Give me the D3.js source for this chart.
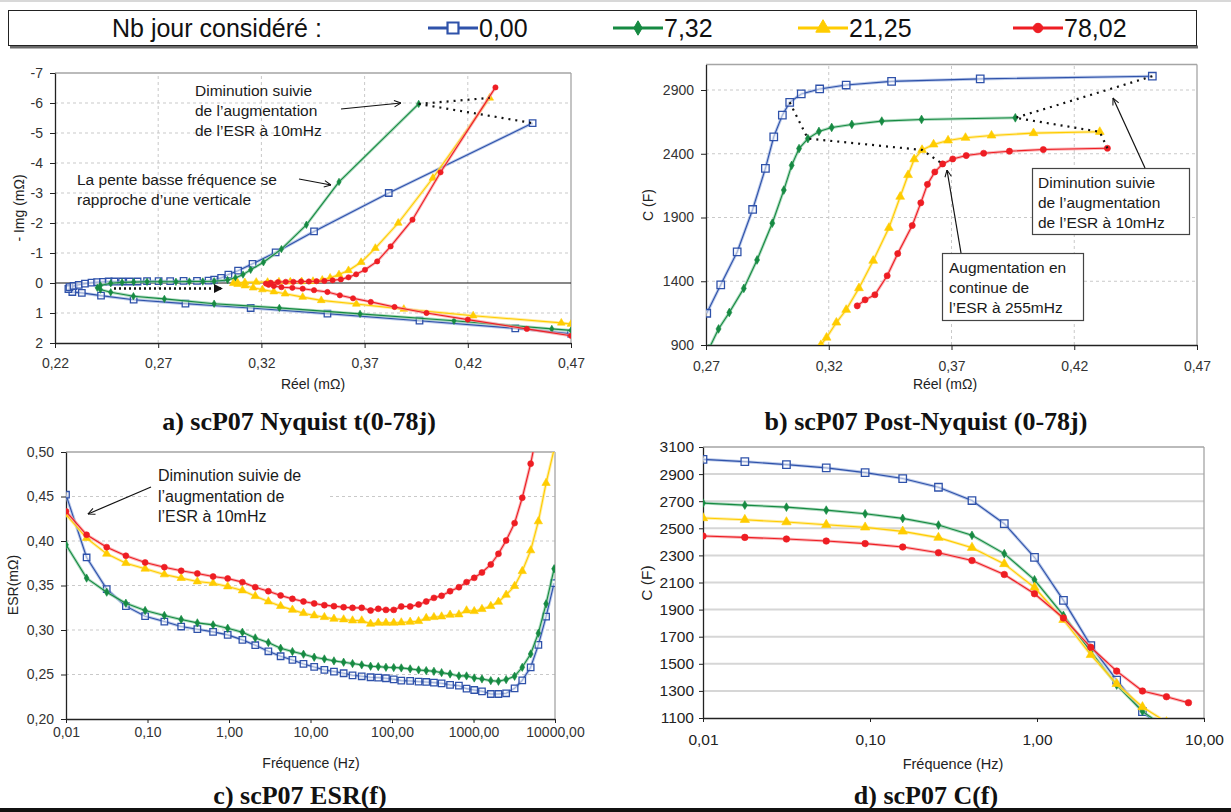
<!DOCTYPE html>
<html><head><meta charset="utf-8">
<script src="https://cdn.jsdelivr.net/npm/d3@7"></script>
<style>body{margin:0;background:#fff}svg{display:block}text{font-family:"Liberation Sans",Arial,sans-serif}text.ttl{font-family:"Liberation Serif","Times New Roman",serif;font-weight:bold}</style>
</head><body>
<script>
// ---------- series meta ----------
const seriesLabels = ["0,00","7,32","21,25","78,02"];
const seriesColors = ["#2F52AA","#168A42","#FFCC00","#EE1D23"];
const haloColors   = ["#9DB2E0","#8FCCA6","#FFE680","#F7989B"];
const markerTypes  = ["square","diamond","triangle","circle"];

// ---------- a) Nyquist ----------
const nyqRe0=[0.470,0.443,0.3966,0.352,0.3148,0.2832,0.2581,0.2423,0.2330,0.2284,0.2265,0.2270,0.2290,0.2315,0.2345,0.2377,0.2404,0.2432,0.2460,0.2488,0.2525,0.2562,0.2600,0.2646,0.2702,0.2758,0.2823,0.2888,0.2944,0.2971,0.3005,0.3040,0.3087,0.3157,0.3269,0.3455,0.3817,0.4514];
const nyqIm0=[1.69,1.511,1.256,1.022,0.833,0.689,0.556,0.422,0.33,0.30,0.20,0.14,0.10,0.06,0.02,-0.01,-0.03,-0.04,-0.05,-0.05,-0.05,-0.05,-0.05,-0.06,-0.06,-0.06,-0.07,-0.07,-0.08,-0.11,-0.17,-0.28,-0.41,-0.64,-1.02,-1.72,-3.00,-5.33];
const nyqRe1=[0.470,0.4607,0.4133,0.3678,0.3287,0.2971,0.2730,0.2580,0.2470,0.2420,0.2405,0.2420,0.2470,0.2525,0.2581,0.2646,0.2711,0.2786,0.2851,0.2916,0.2971,0.3036,0.3074,0.3111,0.3148,0.3210,0.3297,0.3418,0.3576,0.3962];
const nyqIm1=[1.58,1.53,1.26,1.03,0.83,0.69,0.53,0.44,0.31,0.22,0.16,0.08,0.01,-0.02,-0.03,-0.04,-0.04,-0.04,-0.05,-0.05,-0.06,-0.10,-0.17,-0.28,-0.44,-0.69,-1.13,-1.94,-3.37,-5.97];
const nyqRe2=[0.470,0.4653,0.4226,0.389,0.366,0.349,0.340,0.3315,0.326,0.3205,0.316,0.312,0.3085,0.3064,0.3085,0.312,0.3175,0.3230,0.3285,0.334,0.3395,0.345,0.3495,0.3533,0.3576,0.3622,0.3683,0.3752,0.3863,0.4031,0.4306];
const nyqIm2=[1.37,1.33,1.09,0.87,0.70,0.58,0.47,0.36,0.29,0.22,0.16,0.09,0.04,0.01,-0.01,-0.02,-0.03,-0.03,-0.04,-0.04,-0.05,-0.06,-0.10,-0.17,-0.28,-0.42,-0.69,-1.16,-2.0,-3.5,-6.17];
const nyqRe3=[0.470,0.4486,0.420,0.400,0.3845,0.373,0.3644,0.358,0.352,0.3455,0.340,0.3350,0.3297,0.3260,0.3235,0.3222,0.3245,0.3280,0.3318,0.3355,0.3392,0.343,0.3467,0.3505,0.3545,0.3585,0.3622,0.3659,0.3702,0.3761,0.3826,0.3932,0.4068,0.4334];
const nyqIm3=[1.76,1.53,1.22,1.0,0.80,0.63,0.51,0.41,0.30,0.24,0.19,0.16,0.14,0.10,0.06,0.02,-0.01,-0.03,-0.04,-0.04,-0.05,-0.05,-0.06,-0.07,-0.09,-0.12,-0.19,-0.29,-0.44,-0.72,-1.22,-2.11,-3.69,-6.52];
const ticksAx=[0.22,0.27,0.32,0.37,0.42,0.47];
const ticksAy=[-7,-6,-5,-4,-3,-2,-1,0,1,2];

// ---------- b) Post-Nyquist ----------
const postRe0=[0.2703,0.276,0.2827,0.289,0.2942,0.2976,0.3011,0.3041,0.3088,0.3163,0.3271,0.3456,0.3817,0.4518];
const postC0 =[1149,1372,1630,1963,2286,2533,2703,2803,2869,2908,2939,2968,2987,3008];
const postRe1=[0.2712,0.2751,0.2795,0.2854,0.2908,0.297,0.3017,0.3049,0.3079,0.3115,0.316,0.3212,0.3294,0.3416,0.3578,0.396];
const postC1 =[870,1026,1155,1344,1567,1855,2115,2309,2441,2519,2575,2606,2630,2656,2669,2682];
const postRe2=[0.3168,0.3191,0.3231,0.3271,0.3323,0.3381,0.3445,0.3491,0.3523,0.3548,0.358,0.3627,0.3686,0.3757,0.3863,0.4034,0.4304];
const postC2 =[900,958,1076,1176,1346,1561,1819,2063,2233,2357,2430,2473,2504,2525,2543,2562,2572];
const postRe3=[0.3316,0.3348,0.3388,0.3438,0.3481,0.354,0.3575,0.3602,0.3632,0.3664,0.3705,0.376,0.3831,0.3936,0.4074,0.4335];
const postC3 =[1207,1254,1294,1443,1617,1837,2015,2160,2257,2320,2359,2386,2404,2420,2433,2443];
const kneeIdx=[7,9,10,9];
const ticksBx=[0.27,0.32,0.37,0.42,0.47];
const ticksBy=[900,1400,1900,2400,2900];

// ---------- c) ESR(f) ----------
const freqESR=[0.01,0.0179,0.0316,0.0543,0.0935,0.161,0.259,0.409,0.638,0.964,1.46,2.1,3.04,4.3,6.0,8.2,11.1,14.8,19.4,25.5,32.8,42.5,54.6,67.8,84.3,105,130,167,212,263,327,406,516,662,822,1021,1270,1630,2024,2515,3193,3965,5030,6250,7770,9750];
const esr0=[0.452,0.3815,0.3459,0.3268,0.3155,0.3095,0.3039,0.3009,0.2979,0.2945,0.2889,0.2829,0.2761,0.2705,0.2664,0.2619,0.2585,0.2551,0.2533,0.2514,0.2491,0.248,0.2469,0.2465,0.2458,0.2446,0.2431,0.2428,0.242,0.2416,0.2409,0.2401,0.2383,0.2375,0.2341,0.2326,0.2311,0.2281,0.2281,0.2289,0.2345,0.2435,0.2581,0.2833,0.3151,0.3526];
const esr1=[0.3958,0.3583,0.3425,0.3301,0.3219,0.3163,0.3118,0.308,0.3058,0.302,0.2975,0.2911,0.2859,0.2795,0.2758,0.2728,0.2694,0.2675,0.2653,0.2638,0.2623,0.2608,0.2593,0.2589,0.2581,0.2578,0.2574,0.2563,0.2551,0.2544,0.2536,0.2521,0.2506,0.2484,0.2484,0.2461,0.245,0.2431,0.2424,0.2443,0.248,0.2581,0.2731,0.2964,0.3294,0.3688];
const esr2=[0.4299,0.4033,0.3856,0.3751,0.3688,0.3624,0.3583,0.3545,0.3526,0.3489,0.3444,0.338,0.332,0.3268,0.3226,0.3189,0.3163,0.3144,0.3125,0.3118,0.3106,0.3106,0.3069,0.308,0.308,0.308,0.3084,0.3091,0.3099,0.3133,0.3144,0.3151,0.317,0.3174,0.3219,0.3211,0.3234,0.3268,0.3316,0.3395,0.3493,0.3661,0.3894,0.422,0.4651,0.503];
const esr3=[0.4333,0.407,0.3931,0.3834,0.3759,0.3706,0.3665,0.3635,0.3601,0.3579,0.3538,0.3481,0.3436,0.3388,0.335,0.332,0.3298,0.3279,0.3268,0.3256,0.3249,0.3249,0.3219,0.3238,0.3226,0.3226,0.3264,0.3264,0.3286,0.332,0.3361,0.3384,0.3436,0.3481,0.3538,0.3586,0.3646,0.3736,0.3856,0.4006,0.4201,0.4486,0.4869,0.53];
const ticksCx=[0.01,0.1,1,10,100,1000,10000];
const ticksCy=[0.20,0.25,0.30,0.35,0.40,0.45,0.50];

// ---------- d) C(f) ----------
const freqCap=[0.01,0.0178,0.0316,0.0547,0.0935,0.157,0.257,0.408,0.637,0.966,1.44,2.1,3.0,4.28,5.96,8.07];
const cap0=[3009,2992,2970,2946,2911,2867,2803,2705,2534,2286,1968,1634,1379,1147,990];
const cap1=[2686,2671,2656,2634,2607,2573,2524,2448,2313,2120,1857,1590,1343,1149,1025];
const cap2=[2576,2563,2546,2526,2507,2477,2431,2357,2237,2063,1825,1566,1352,1181,1070];
const cap3=[2443,2433,2421,2406,2387,2362,2320,2262,2159,2017,1838,1622,1446,1299,1257,1213];
const ticksDx=[0.01,0.1,1,10];
const ticksDy=[1100,1300,1500,1700,1900,2100,2300,2500,2700,2900,3100];

// ---------- drawing ----------
const W=1231,H=812;
const svg=d3.select("body").append("svg").attr("width",W).attr("height",H);
const defs=svg.append("defs");
defs.append("marker").attr("id","arr").attr("viewBox","0 0 10 10").attr("refX",9.5).attr("refY",5)
  .attr("markerWidth",8).attr("markerHeight",8).attr("markerUnits","userSpaceOnUse").attr("orient","auto")
  .append("path").attr("d","M1,1L9.5,5L1,9").attr("fill","none").attr("stroke","#111").attr("stroke-width",1.3);
defs.append("marker").attr("id","arrF").attr("viewBox","0 0 10 10").attr("refX",9).attr("refY",5)
  .attr("markerWidth",9).attr("markerHeight",9).attr("markerUnits","userSpaceOnUse").attr("orient","auto")
  .append("path").attr("d","M0,0L10,5L0,10Z").attr("fill","#111");

const comma = f => v => d3.format(f)(v).replace(".",",").replace("−","-");

function symbolFor(i, s){
  const t={square:d3.symbolSquare,diamond:d3.symbolDiamond,triangle:d3.symbolTriangle,circle:d3.symbolCircle}[markerTypes[i]];
  return d3.symbol().type(t).size(s[i])();
}

function drawSeries(g, xs, ys, x, y, i, sizes, clipId){
  const pts=xs.map((v,k)=>[x(v),y(ys[k])]);
  const gg=g.append("g").attr("clip-path",`url(#${clipId})`);
  const line=d3.line();
  gg.append("path").attr("d",line(pts)).attr("fill","none").attr("stroke",haloColors[i]).attr("stroke-width",3).attr("stroke-opacity",0.7);
  gg.append("path").attr("d",line(pts)).attr("fill","none").attr("stroke",seriesColors[i]).attr("stroke-width",1.1);
  const isSq = markerTypes[i]==="square";
  gg.selectAll(null).data(pts).join("path")
    .attr("transform",d=>`translate(${d[0]},${d[1]})`)
    .attr("d",symbolFor(i,sizes))
    .attr("fill",isSq?"#fff":seriesColors[i]).attr("fill-opacity",isSq?0.55:1)
    .attr("stroke",seriesColors[i]).attr("stroke-width",isSq?1.3:0.6);
}

function clip(id,x,y){
  const [x0,x1]=x.range(),[y0,y1]=y.range();
  defs.append("clipPath").attr("id",id).append("rect").attr("x",x0).attr("y",y1).attr("width",x1-x0).attr("height",y0-y1);
}

function styleAxis(g,fs,col){
  g.select(".domain").attr("stroke","#222").attr("stroke-width",1.3);
  g.selectAll(".tick line").attr("stroke","#222");
  g.selectAll(".tick text").attr("font-size",fs).attr("fill",col);
}

function hGrid(g,vals,x,y,dash,col,w){
  g.selectAll(null).data(vals).join("line")
   .attr("x1",x.range()[0]).attr("x2",x.range()[1]).attr("y1",d=>y(d)).attr("y2",d=>y(d))
   .attr("stroke",col).attr("stroke-width",w||1).attr("stroke-dasharray",dash);
}
function vGrid(g,vals,x,y,dash,col){
  g.selectAll(null).data(vals).join("line")
   .attr("y1",y.range()[0]).attr("y2",y.range()[1]).attr("x1",d=>x(d)).attr("x2",d=>x(d))
   .attr("stroke",col).attr("stroke-dasharray",dash);
}
function frame(g,x,y,col){
  const [x0,x1]=x.range(),[y0,y1]=y.range();
  g.append("line").attr("x1",x0).attr("x2",x1).attr("y1",y1).attr("y2",y1).attr("stroke",col).attr("stroke-width",1.3);
  g.append("line").attr("x1",x1).attr("x2",x1).attr("y1",y1).attr("y2",y0).attr("stroke",col).attr("stroke-width",1.3);
}
function texts(g,lines,x,y0,dy,fs){
  lines.forEach((t,k)=>g.append("text").attr("x",x).attr("y",y0+k*dy).attr("font-size",fs).attr("fill","#1a1a1a").text(t));
}
function arrow(g,x1,y1,x2,y2,m){
  g.append("line").attr("x1",x1).attr("y1",y1).attr("x2",x2).attr("y2",y2).attr("stroke","#111").attr("stroke-width",1.2).attr("marker-end",`url(#${m||"arr"})`);
}
function dotted(g,pts){
  g.append("path").attr("d",d3.line()(pts)).attr("fill","none").attr("stroke","#111").attr("stroke-width",2.2).attr("stroke-dasharray","2,5");
}
function title(x,y,t){
  svg.append("text").attr("class","ttl").attr("x",x).attr("y",y).attr("text-anchor","middle")
    .attr("font-size",26).attr("fill","#111").text(t);
}
function axTitle(x,y,t,fs,rot){
  const tt=svg.append("text").attr("text-anchor","middle").attr("font-size",fs).attr("fill","#222").text(t);
  if(rot) tt.attr("transform",`translate(${x},${y}) rotate(-90)`); else tt.attr("x",x).attr("y",y);
}

// top hairline and bottom bar
svg.append("line").attr("x1",0).attr("x2",W).attr("y1",1).attr("y2",1).attr("stroke","#d8d8d8").attr("stroke-width",2);
svg.append("rect").attr("x",0).attr("y",808).attr("width",W).attr("height",4).attr("fill","#111");

// ---------- legend ----------
const leg=svg.append("g");
leg.append("line").attr("x1",10).attr("x2",1198).attr("y1",47).attr("y2",47).attr("stroke","#6a6a6a").attr("stroke-width",3);
leg.append("rect").attr("x",8.5).attr("y",10.5).attr("width",1188).attr("height",35).attr("fill","#fff").attr("stroke","#222").attr("stroke-width",1);
leg.append("text").attr("x",112).attr("y",37).attr("font-size",25).attr("fill","#111").text("Nb jour considéré :");
const legX=[428,613,798,1013];
const legSizes=[120,60,90,70];
seriesLabels.forEach((lab,i)=>{
  const gx=legX[i];
  leg.append("line").attr("x1",gx).attr("x2",gx+50).attr("y1",28).attr("y2",28).attr("stroke",seriesColors[i]).attr("stroke-width",3);
  leg.append("path").attr("transform",`translate(${gx+25},28)`).attr("d",symbolFor(i,legSizes))
    .attr("fill",markerTypes[i]==="square"?"#fff":seriesColors[i]).attr("stroke",seriesColors[i]).attr("stroke-width",markerTypes[i]==="square"?2.2:1);
  leg.append("text").attr("x",gx+51).attr("y",37).attr("font-size",25).attr("fill","#111").text(lab);
});

// ---------- panel a ----------
{
  const x=d3.scaleLinear().domain([0.22,0.47]).range([55,571]);
  const y=d3.scaleLinear().domain([2,-7]).range([343,73]);
  clip("clipA",x,y);
  const g=svg.append("g");
  vGrid(g,ticksAx.slice(1,-1),x,y,"3,3","#c9c9c9");
  hGrid(g,ticksAy.filter(v=>v!==0&&v!==-7&&v!==2),x,y,"3,3","#c9c9c9");
  frame(g,x,y,"#a5a5a5");
  g.append("line").attr("x1",x.range()[0]).attr("x2",x.range()[1]).attr("y1",y(0)).attr("y2",y(0)).attr("stroke","#111").attr("stroke-width",1.2);
  const gx=g.append("g").attr("transform",`translate(0,${y.range()[0]})`).call(d3.axisBottom(x).tickValues(ticksAx).tickFormat(comma(".2f")).tickSize(5).tickSizeOuter(0).tickPadding(10));
  styleAxis(gx,14,"#333");
  const gy=g.append("g").attr("transform",`translate(${x.range()[0]},0)`).call(d3.axisLeft(y).tickValues(ticksAy).tickFormat(v=>String(v)).tickSize(5).tickSizeOuter(0).tickPadding(7));
  styleAxis(gy,14,"#333");
  const sz=[42,16,26,22];
  [[nyqRe0,nyqIm0],[nyqRe1,nyqIm1],[nyqRe2,nyqIm2],[nyqRe3,nyqIm3]].forEach((s,i)=>drawSeries(g,s[0],s[1],x,y,i,sz,"clipA"));
  const last=(a)=>a[a.length-1];
  const pG=[x(last(nyqRe1)),y(last(nyqIm1))];
  dotted(g,[pG,[x(last(nyqRe2)),y(last(nyqIm2))]]);
  dotted(g,[pG,[x(last(nyqRe0)),y(last(nyqIm0))]]);
  texts(g,["Diminution suivie","de l’augmentation","de l’ESR à 10mHz"],195,96,20,15.5);
  arrow(g,341,109,401,103);
  texts(g,["La pente basse fréquence se","rapproche d’une verticale"],77,185,20,15.5);
  arrow(g,299,179,331,185);
  g.append("line").attr("x1",114).attr("x2",222).attr("y1",288.5).attr("y2",288.5).attr("stroke","#111").attr("stroke-width",2.4).attr("stroke-dasharray","2,3").attr("marker-end","url(#arrF)");
  axTitle(313,389,"Réel (mΩ)",14);
  axTitle(24,208,"- Img (mΩ)",14,true);
  title(299,430,"a) scP07 Nyquist t(0-78j)");
}

// ---------- panel b ----------
{
  const x=d3.scaleLinear().domain([0.27,0.47]).range([706,1197]);
  const y=d3.scaleLinear().domain([900,3100]).range([345,64.5]);
  clip("clipB",x,y);
  const g=svg.append("g");
  vGrid(g,ticksBx.slice(1,-1),x,y,"3,3","#c9c9c9");
  hGrid(g,ticksBy.slice(1),x,y,"3,3","#c9c9c9");
  frame(g,x,y,"#a5a5a5");
  const gx=g.append("g").attr("transform",`translate(0,${y.range()[0]})`).call(d3.axisBottom(x).tickValues(ticksBx).tickFormat(comma(".2f")).tickSize(5).tickSizeOuter(0).tickPadding(11));
  styleAxis(gx,14,"#333");
  const gy=g.append("g").attr("transform",`translate(${x.range()[0]},0)`).call(d3.axisLeft(y).tickValues(ticksBy).tickFormat(d3.format("d")).tickSize(5).tickSizeOuter(0).tickPadding(7));
  styleAxis(gy,14,"#333");
  const sz=[56,22,34,30];
  const S=[[postRe0,postC0],[postRe1,postC1],[postRe2,postC2],[postRe3,postC3]];
  S.forEach((s,i)=>drawSeries(g,s[0],s[1],x,y,i,sz,"clipB"));
  dotted(g,S.map((s,i)=>[x(s[0][kneeIdx[i]]),y(s[1][kneeIdx[i]])]));
  const endPt=s=>[x(s[0][s[0].length-1]),y(s[1][s[1].length-1])];
  dotted(g,[endPt(S[0]),endPt(S[1]),endPt(S[2]),endPt(S[3])]);
  g.append("rect").attr("x",1032.5).attr("y",168.5).attr("width",157).attr("height",66).attr("fill","#fff").attr("stroke","#444").attr("stroke-width",1.2);
  texts(g,["Diminution suivie","de l’augmentation","de l’ESR à 10mHz"],1038,188,20,15.5);
  arrow(g,1145,168,1113,98);
  g.append("rect").attr("x",942.5).attr("y",253.5).attr("width",141).attr("height",67).attr("fill","#fff").attr("stroke","#444").attr("stroke-width",1.2);
  texts(g,["Augmentation en","continue de","l’ESR à 255mHz"],949,273,20,15.5);
  arrow(g,961,253,947,170);
  axTitle(945,389,"Réel (mΩ)",14);
  axTitle(653,205,"C (F)",14,true);
  title(926,430,"b) scP07 Post-Nyquist (0-78j)");
}

// ---------- panel c ----------
{
  const x=d3.scaleLog().domain([0.01,10000]).range([66,555]);
  const y=d3.scaleLinear().domain([0.2,0.5]).range([719,452]);
  clip("clipC",x,y);
  const g=svg.append("g");
  hGrid(g,ticksCy.slice(1,-1),x,y,"3,3","#c9c9c9");
  frame(g,x,y,"#a5a5a5");
  const gx=g.append("g").attr("transform",`translate(0,${y.range()[0]})`).call(d3.axisBottom(x).tickValues(ticksCx).tickFormat(comma(".2f")).tickSize(4).tickSizeOuter(0).tickPadding(4));
  styleAxis(gx,14,"#333");
  const gy=g.append("g").attr("transform",`translate(${x.range()[0]},0)`).call(d3.axisLeft(y).tickValues(ticksCy).tickFormat(comma(".2f")).tickSize(5).tickSizeOuter(0).tickPadding(7));
  styleAxis(gy,14,"#333");
  const sz=[42,20,30,28];
  [esr0,esr1,esr2,esr3].forEach((v,i)=>drawSeries(g,freqESR.slice(0,v.length),v,x,y,i,sz,"clipC"));
  g.append("rect").attr("x",150).attr("y",463).attr("width",178).attr("height",62).attr("fill","#fff");
  texts(g,["Diminution suivie de","l’augmentation de","l’ESR à 10mHz"],158,481,20.5,16);
  arrow(g,151,487,88,514);
  axTitle(311,768,"Fréquence (Hz)",14);
  axTitle(18,585,"ESR(mΩ)",14,true);
  title(300,804,"c) scP07 ESR(f)");
}

// ---------- panel d ----------
{
  const x=d3.scaleLog().domain([0.01,10]).range([703,1204]);
  const y=d3.scaleLinear().domain([1100,3100]).range([718,447]);
  clip("clipD",x,y);
  const g=svg.append("g");
  hGrid(g,ticksDy.slice(1,-1),x,y,null,"#d6d6d6",2);
  frame(g,x,y,"#a5a5a5");
  const gx=g.append("g").attr("transform",`translate(0,${y.range()[0]})`).call(d3.axisBottom(x).tickValues(ticksDx).tickFormat(comma(".2f")).tickSize(4).tickSizeOuter(0).tickPadding(12));
  styleAxis(gx,15.5,"#222");
  const gy=g.append("g").attr("transform",`translate(${x.range()[0]},0)`).call(d3.axisLeft(y).tickValues(ticksDy).tickFormat(d3.format("d")).tickSize(4).tickSizeOuter(0).tickPadding(5));
  styleAxis(gy,15.5,"#222");
  const sz=[56,22,38,34];
  [cap0,cap1,cap2,cap3].forEach((v,i)=>drawSeries(g,freqCap.slice(0,v.length),v,x,y,i,sz,"clipD"));
  axTitle(953,769,"Fréquence (Hz)",14.5);
  axTitle(652,583,"C (F)",15.5,true);
  title(926,804,"d) scP07 C(f)");
}
</script>
</body></html>
